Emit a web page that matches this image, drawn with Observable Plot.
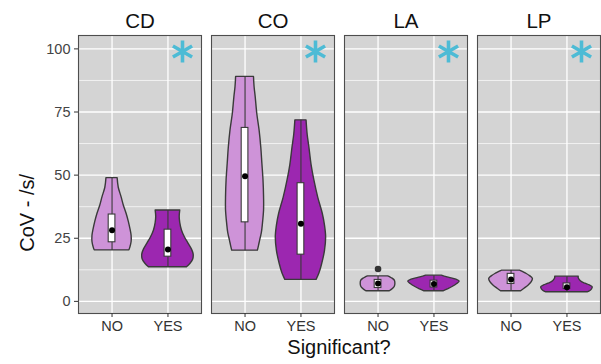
<!DOCTYPE html>
<html>
<head>
<meta charset="utf-8">
<script src="https://cdn.jsdelivr.net/npm/d3@7"></script>
<script src="https://cdn.jsdelivr.net/npm/@observablehq/plot@0.6"></script>
<style>
  html, body { margin: 0; padding: 0; background: #fff; }
  #wrap { position: relative; width: 601px; height: 364px; font-family: "Liberation Sans", Arial, sans-serif; overflow: hidden; }
  #ytitle { position: absolute; left: 27px; top: 174px; transform: translate(-100%, -50%) rotate(-90deg); transform-origin: 100% 50%; font-size: 20px; color: #111; white-space: nowrap; line-height: 1; }
  #xtitle { position: absolute; left: 77px; width: 524px; top: 337px; text-align: center; font-size: 20px; color: #111; line-height: 1; }
</style>
</head>
<body>
<div id="wrap">
  <div id="chart"></div>
  <div id="ytitle">CoV - /s/</div>
  <div id="xtitle">Significant?</div>
</div>
<script>
// ---- data ----
const sites = ["CD", "CO", "LA", "LP"];
const sigLevels = ["NO", "YES"];
const xTickLabels = ["NO", "YES"];
const yTicks = [0, 25, 50, 75, 100];
const yMinorTicks = [12.5, 37.5, 62.5, 87.5];

// violin outlines: [value, half-width of density (in band units)]
const violinCD_NO  = [[20.2,0.31],[21.5,0.33],[23.5,0.35],[26.0,0.35],[28.5,0.33],[31.5,0.30],[34.7,0.26],[38.0,0.21],[41.3,0.17],[45.0,0.12],[48.8,0.10]];
const violinCD_YES = [[13.5,0.34],[14.8,0.40],[16.5,0.45],[18.5,0.46],[20.5,0.43],[22.8,0.37],[25.5,0.30],[28.1,0.25],[31.0,0.22],[33.4,0.21],[36.0,0.22]];
const violinCO_NO  = [[20.1,0.23],[22.0,0.25],[24.1,0.27],[27.0,0.30],[30.7,0.32],[36.0,0.34],[41.3,0.34],[48.0,0.33],[54.5,0.31],[61.0,0.29],[67.7,0.26],[74.0,0.22],[81.0,0.19],[85.0,0.17],[88.9,0.16]];
const violinCO_YES = [[8.5,0.28],[11.0,0.33],[14.8,0.38],[20.0,0.43],[25.4,0.45],[30.0,0.43],[34.7,0.39],[41.0,0.31],[47.9,0.24],[54.0,0.19],[61.1,0.15],[66.0,0.12],[71.7,0.10]];
const violinLA_NO  = [[4.0,0.21],[4.8,0.26],[5.8,0.30],[7.0,0.31],[8.2,0.30],[9.0,0.26],[9.5,0.22],[9.9,0.18]];
const violinLA_YES = [[4.0,0.17],[4.8,0.25],[5.8,0.34],[6.8,0.41],[7.8,0.46],[8.6,0.40],[9.3,0.28],[9.8,0.19],[10.2,0.14]];
const violinLP_NO  = [[4.0,0.18],[5.0,0.24],[6.2,0.31],[7.6,0.37],[8.9,0.39],[10.0,0.34],[11.0,0.27],[11.7,0.21],[12.2,0.16]];
const violinLP_YES = [[3.6,0.37],[4.1,0.42],[4.8,0.45],[5.6,0.46],[6.3,0.41],[7.0,0.33],[7.6,0.27],[8.4,0.23],[9.2,0.21],[9.8,0.21]];

const groupSite = ["CD", "CD", "CO", "CO", "LA", "LA", "LP", "LP"];
const groupSig  = ["NO", "YES", "NO", "YES", "NO", "YES", "NO", "YES"];
const whiskerLow  = [20.2, 13.5, 20.1, 8.5, 4.0, 4.0, 4.0, 3.6];
const q1          = [23.4, 17.7, 31.3, 18.5, 5.3, 5.5, 6.9, 4.9];
const medians     = [28.2, 20.5, 49.6, 30.7, 7.1, 6.9, 8.7, 5.6];
const q3          = [34.4, 28.4, 68.7, 46.8, 8.5, 8.2, 10.9, 7.1];
const whiskerHigh = [48.8, 36.0, 88.9, 71.7, 9.9, 10.2, 12.2, 9.8];

const outlierSite = ["LA"];
const outlierSig = ["NO"];
const outlierValue = [12.8];

const asteriskSites = ["CD", "CO", "LA", "LP"];

// ---- build tables ----
const violins = [violinCD_NO, violinCD_YES, violinCO_NO, violinCO_YES,
                 violinLA_NO, violinLA_YES, violinLP_NO, violinLP_YES];
const pos = s => sigLevels.indexOf(s) + 1;
const violinRows = [];
violins.forEach((v, i) => {
  v.forEach(([value, hw]) => violinRows.push({
    key: groupSite[i] + groupSig[i], site: groupSite[i], sig: groupSig[i],
    value, lo: pos(groupSig[i]) - hw, hi: pos(groupSig[i]) + hw
  }));
});
const boxes = groupSite.map((site, i) => ({
  site, sig: groupSig[i], x: pos(groupSig[i]),
  wl: whiskerLow[i], q1: q1[i], med: medians[i], q3: q3[i], wh: whiskerHigh[i]
}));
const outliers = outlierSite.map((site, i) => ({site, x: pos(outlierSig[i]), value: outlierValue[i]}));
const asterisks = asteriskSites.map(site => ({site}));

const bw = 0.06;
const chart = Plot.plot({
  width: 601,
  height: 364,
  marginLeft: 77,
  marginRight: 0,
  marginTop: 35,
  marginBottom: 51,
  style: {fontFamily: "Liberation Sans, Arial, sans-serif", background: "white"},
  fx: {domain: sites, paddingInner: 0.075, paddingOuter: 0},
  x: {domain: [0.4, 2.6]},
  y: {domain: [-4.8, 105.3]},
  color: {domain: sigLevels, range: ["#CE93D8", "#9C27B0"]},
  marks: [
    Plot.frame({fill: "#d4d4d4", stroke: null}),
    Plot.gridY(yMinorTicks, {stroke: "white", strokeOpacity: 1, strokeWidth: 0.7}),
    Plot.gridY(yTicks, {stroke: "white", strokeOpacity: 1, strokeWidth: 1.3}),
    Plot.gridX([1, 2], {stroke: "white", strokeOpacity: 1, strokeWidth: 1.3}),
    Plot.areaX(violinRows, {fx: "site", y: "value", x1: "lo", x2: "hi", z: "key",
      fill: "sig", stroke: "#3a3a3a", strokeWidth: 1.4, strokeLinejoin: "round", curve: "catmull-rom"}),
    Plot.ruleX(boxes, {fx: "site", x: "x", y1: "wl", y2: "wh", stroke: "#3a3a3a", strokeWidth: 1.1}),
    Plot.rect(boxes, {fx: "site", x1: d => d.x - bw, x2: d => d.x + bw, y1: "q1", y2: "q3",
      fill: "white", stroke: "#3a3a3a", strokeWidth: 1.1}),
    Plot.dot(boxes, {fx: "site", x: "x", y: "med", r: 3, fill: "black", stroke: null}),
    Plot.dot(outliers, {fx: "site", x: "x", y: "value", r: 3.3, fill: "#333", stroke: null}),
    Plot.dot(asterisks, {fx: "site", frameAnchor: "top-right", dx: -19, dy: 16,
      symbol: "asterisk", r: 10.5, stroke: "#4DBBD5", strokeWidth: 3.6}),
    Plot.frame({stroke: "#4d4d4d", strokeWidth: 1.1}),
    Plot.axisY(yTicks, {anchor: "left", tickSize: 4, tickPadding: 4, fontSize: 14.5,
      color: "#444", stroke: "#333", label: null}),
    Plot.axisX([1, 2], {anchor: "bottom", tickSize: 4, tickPadding: 3, fontSize: 14.5,
      color: "#333", stroke: "#333", tickFormat: d => xTickLabels[d - 1], label: null}),
    Plot.axisFx({anchor: "top", tickSize: 0, tickPadding: 8, fontSize: 20.5, color: "#111", label: null})
  ]
});
document.getElementById("chart").appendChild(chart);
</script>
</body>
</html>
